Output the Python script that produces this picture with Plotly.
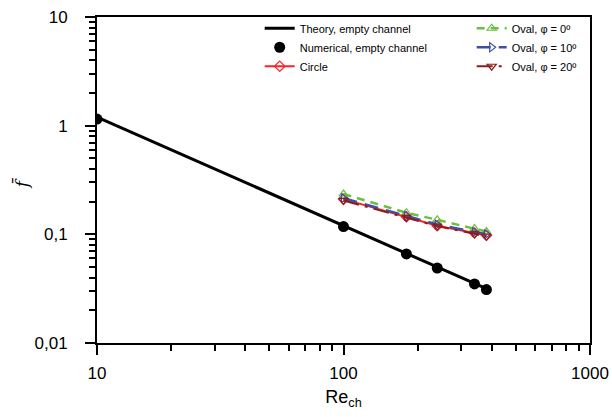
import plotly.graph_objects as go

# Data
re_theory = [10, 100, 180, 240, 340, 380]
f_theory = [1.2, 0.12, 0.0667, 0.05, 0.0353, 0.0316]
re_num = [10, 100, 180, 240, 340, 380]
f_num = [1.15, 0.118, 0.066, 0.049, 0.035, 0.031]
re_obs = [100, 180, 240, 340, 380]
f_circle = [0.211, 0.145, 0.12, 0.103, 0.098]
f_oval0 = [0.235, 0.158, 0.136, 0.113, 0.106]
f_oval10 = [0.215, 0.148, 0.123, 0.105, 0.100]
f_oval20 = [0.205, 0.143, 0.119, 0.101, 0.096]

x_ticks = [10, 100, 1000]
x_ticktext = ["10", "100", "1000"]
x_minor = [20, 30, 40, 50, 60, 70, 80, 90, 200, 300, 400, 500, 600, 700, 800, 900]
y_ticks = [0.01, 0.1, 1, 10]
y_ticktext = ["0,01", "0,1", "1", "10"]
y_minor = [0.02, 0.03, 0.04, 0.05, 0.06, 0.07, 0.08, 0.09,
           0.2, 0.3, 0.4, 0.5, 0.6, 0.7, 0.8, 0.9,
           2, 3, 4, 5, 6, 7, 8, 9]

FONT = "Liberation Sans, Arial, sans-serif"

fig = go.Figure()
fig.add_trace(go.Scatter(x=re_theory, y=f_theory, mode="lines", name="Theory, empty channel",
                         line=dict(color="black", width=3), legend="legend"))
fig.add_trace(go.Scatter(x=re_num, y=f_num, mode="markers", name="Numerical, empty channel",
                         marker=dict(color="black", size=11, symbol="circle"), legend="legend"))
fig.add_trace(go.Scatter(x=re_obs, y=f_circle, mode="lines+markers", name="Circle",
                         line=dict(color="#ff2222", width=2),
                         marker=dict(symbol="diamond-open", size=8, color="#ff2222", line=dict(width=1.2)),
                         legend="legend"))
fig.add_trace(go.Scatter(x=re_obs, y=f_oval0, mode="lines+markers", name="Oval, φ = 0º",
                         line=dict(color="#6cbf3f", width=2.5, dash="8px,6px"),
                         marker=dict(symbol="triangle-up-open", size=8, color="#6cbf3f", line=dict(width=1.2)),
                         legend="legend2"))
fig.add_trace(go.Scatter(x=re_obs, y=f_oval10, mode="lines+markers", name="Oval, φ = 10º",
                         line=dict(color="#3f4fa8", width=2.5, dash="14px,8px"),
                         marker=dict(symbol="triangle-right-open", size=8, color="#3f4fa8", line=dict(width=1.2)),
                         legend="legend2"))
fig.add_trace(go.Scatter(x=re_obs, y=f_oval20, mode="lines+markers", name="Oval, φ = 20º",
                         line=dict(color="#8b1c1c", width=2, dash="16px,6px,3px,6px"),
                         marker=dict(symbol="triangle-down-open", size=8, color="#8b1c1c", line=dict(width=1.2)),
                         legend="legend2"))

axis_common = dict(
    type="log", showline=True, linecolor="black", linewidth=2, mirror=True,
    ticks="outside", ticklen=10, tickwidth=2, tickcolor="black",
    showgrid=False, zeroline=False, automargin=False,
    tickfont=dict(family=FONT, size=17, color="black"),
)

fig.update_layout(
    width=612, height=417,
    margin=dict(l=97, r=22, t=17, b=74),
    paper_bgcolor="white", plot_bgcolor="white",
    font=dict(family=FONT, color="black"),
    xaxis=dict(axis_common, range=[1, 3], tickvals=x_ticks, ticktext=x_ticktext,
               ticklabelstandoff=4,
               minor=dict(tickvals=x_minor, ticks="outside", ticklen=6, tickwidth=2,
                          tickcolor="black", showgrid=False),
               title=dict(text="Re<sub>ch</sub>", font=dict(family=FONT, size=18), standoff=8)),
    yaxis=dict(axis_common, range=[-2, 1], tickvals=y_ticks, ticktext=y_ticktext,
               ticklabelstandoff=14,
               minor=dict(tickvals=y_minor, ticks="outside", ticklen=6, tickwidth=2,
                          tickcolor="black", showgrid=False)),
    annotations=[dict(text="<i>f\u0304</i>", xref="paper", yref="paper",
                      x=-0.152, y=0.49, xanchor="center", yanchor="middle",
                      textangle=-90, showarrow=False,
                      font=dict(family="DejaVu Serif", size=17, color="black"))],
    legend=dict(x=0.33, y=1.01, xanchor="left", yanchor="top", bgcolor="rgba(0,0,0,0)",
                font=dict(family=FONT, size=11), tracegroupgap=0),
    legend2=dict(x=0.76, y=1.01, xanchor="left", yanchor="top", bgcolor="rgba(0,0,0,0)",
                 font=dict(family=FONT, size=11), tracegroupgap=0),
    showlegend=True,
)

fig.write_html("out.html")
